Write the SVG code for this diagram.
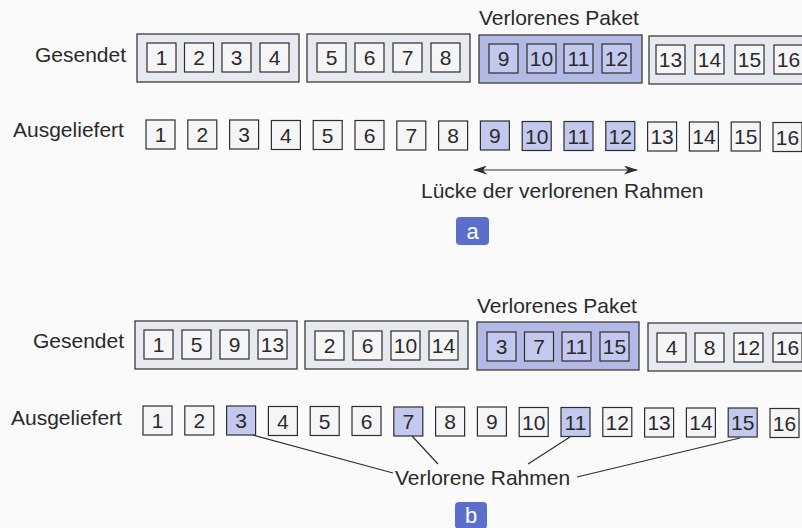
<svg xmlns="http://www.w3.org/2000/svg" width="802" height="528" viewBox="0 0 802 528">
  <defs>
    <style>
      text { font-family: "Liberation Sans", Arial, sans-serif; font-size: 21px; fill: #2a2a2a; }
      .num { text-anchor: middle; }
      .grp { fill: #e7e9f1; stroke: #3c3c3c; stroke-width: 1.3; }
      .grp.lost { fill: #b2b9e4; }
      .box { fill: #f5f5f8; stroke: #2e2e2e; stroke-width: 1.2; }
      .box.lost { fill: #c3c9ee; }
      .badge { fill: #5b6ecb; }
      .badge-t { fill: #ffffff; text-anchor: middle; font-size: 22px; }
      .lead { stroke: #2e2e2e; stroke-width: 1.2; fill: none; }
    </style>
    <marker id="head" viewBox="0 0 14 9" refX="13" refY="4.5" markerWidth="14" markerHeight="9" markerUnits="userSpaceOnUse" orient="auto-start-reverse">
      <path d="M0,0 L14,4.5 L0,9 L4,4.5 Z" fill="#2e2e2e"/>
    </marker>
  </defs>

  <rect x="0" y="0" width="802" height="528" fill="#fafafa"/>

  <!-- ===== Part a: packets carrying consecutive frames ===== -->
  <g id="a-sent-label"><text x="35" y="62">Gesendet</text></g>
  <g id="a-lost-caption"><text x="479" y="25">Verlorenes Paket</text></g>

  <g id="a-packet-1">
    <rect class="grp" x="137" y="34" width="162" height="48"/>
    <rect class="box" x="147" y="43" width="29" height="29"/><text class="num" x="161.5" y="65">1</text>
    <rect class="box" x="184.5" y="43" width="29" height="29"/><text class="num" x="199" y="65">2</text>
    <rect class="box" x="222" y="43" width="29" height="29"/><text class="num" x="236.5" y="65">3</text>
    <rect class="box" x="260" y="43" width="29" height="29"/><text class="num" x="274.5" y="65">4</text>
  </g>
  <g id="a-packet-2">
    <rect class="grp" x="307" y="34" width="163" height="48"/>
    <rect class="box" x="317" y="43" width="29" height="29"/><text class="num" x="331.5" y="65">5</text>
    <rect class="box" x="355" y="43" width="29" height="29"/><text class="num" x="369.5" y="65">6</text>
    <rect class="box" x="393" y="43" width="29" height="29"/><text class="num" x="407.5" y="65">7</text>
    <rect class="box" x="431" y="43" width="29" height="29"/><text class="num" x="445.5" y="65">8</text>
  </g>
  <g id="a-packet-3">
    <rect class="grp lost" x="479" y="35" width="163" height="48"/>
    <rect class="box lost" x="489" y="44" width="29" height="29"/><text class="num" x="503.5" y="66">9</text>
    <rect class="box lost" x="527" y="44" width="29" height="29"/><text class="num" x="541.5" y="66">10</text>
    <rect class="box lost" x="564" y="44" width="29" height="29"/><text class="num" x="578.5" y="66">11</text>
    <rect class="box lost" x="602" y="44" width="29" height="29"/><text class="num" x="616.5" y="66">12</text>
  </g>
  <g id="a-packet-4">
    <rect class="grp" x="649" y="36" width="165" height="48"/>
    <rect class="box" x="656" y="45" width="29" height="29"/><text class="num" x="670.5" y="67">13</text>
    <rect class="box" x="695" y="45" width="29" height="29"/><text class="num" x="709.5" y="67">14</text>
    <rect class="box" x="735" y="45" width="29" height="29"/><text class="num" x="749.5" y="67">15</text>
    <rect class="box" x="774" y="45" width="29" height="29"/><text class="num" x="788.5" y="67">16</text>
  </g>

  <g id="a-delivered-label"><text x="13" y="137">Ausgeliefert</text></g>
  <g id="a-delivered">
    <rect class="box" x="146" y="120" width="29" height="29"/><text class="num" x="160.5" y="142">1</text>
    <rect class="box" x="187.8" y="120" width="29" height="29"/><text class="num" x="202.3" y="142">2</text>
    <rect class="box" x="229.6" y="120" width="29" height="29"/><text class="num" x="244.1" y="142">3</text>
    <rect class="box" x="271.4" y="120.5" width="29" height="29"/><text class="num" x="285.9" y="142.5">4</text>
    <rect class="box" x="313.2" y="120.5" width="29" height="29"/><text class="num" x="327.7" y="142.5">5</text>
    <rect class="box" x="355" y="120.5" width="29" height="29"/><text class="num" x="369.5" y="142.5">6</text>
    <rect class="box" x="396.8" y="121" width="29" height="29"/><text class="num" x="411.3" y="143">7</text>
    <rect class="box" x="438.6" y="121" width="29" height="29"/><text class="num" x="453.1" y="143">8</text>
    <rect class="box lost" x="480.4" y="121" width="29" height="29"/><text class="num" x="494.9" y="143">9</text>
    <rect class="box lost" x="522.2" y="121.5" width="29" height="29"/><text class="num" x="536.7" y="143.5">10</text>
    <rect class="box lost" x="564" y="121.5" width="29" height="29"/><text class="num" x="578.5" y="143.5">11</text>
    <rect class="box lost" x="605.8" y="121.5" width="29" height="29"/><text class="num" x="620.3" y="143.5">12</text>
    <rect class="box" x="647.6" y="122" width="29" height="29"/><text class="num" x="662.1" y="144">13</text>
    <rect class="box" x="689.4" y="122" width="29" height="29"/><text class="num" x="703.9" y="144">14</text>
    <rect class="box" x="731.2" y="122" width="29" height="29"/><text class="num" x="745.7" y="144">15</text>
    <rect class="box" x="773" y="122.5" width="29" height="29"/><text class="num" x="787.5" y="144.5">16</text>
  </g>

  <g id="a-connectors">
    <line class="lead" x1="474" y1="170" x2="637" y2="170" marker-start="url(#head)" marker-end="url(#head)"/>
  </g>
  <g id="a-gap-label"><text x="421" y="198">Lücke der verlorenen Rahmen</text></g>
  <g id="a-badge">
    <rect class="badge" x="456" y="217" width="33" height="28" rx="4"/>
    <text class="badge-t" x="472.5" y="239">a</text>
  </g>

  <!-- ===== Part b: interleaved frames across packets ===== -->
  <g id="b-sent-label"><text x="33" y="348">Gesendet</text></g>
  <g id="b-lost-caption"><text x="477" y="313">Verlorenes Paket</text></g>

  <g id="b-packet-1">
    <rect class="grp" x="135" y="321" width="162" height="48"/>
    <rect class="box" x="144" y="330" width="29" height="29"/><text class="num" x="158.5" y="352">1</text>
    <rect class="box" x="182" y="330" width="29" height="29"/><text class="num" x="196.5" y="352">5</text>
    <rect class="box" x="220" y="330" width="29" height="29"/><text class="num" x="234.5" y="352">9</text>
    <rect class="box" x="258" y="330" width="29" height="29"/><text class="num" x="272.5" y="352">13</text>
  </g>
  <g id="b-packet-2">
    <rect class="grp" x="305" y="321" width="163" height="48"/>
    <rect class="box" x="315" y="331" width="29" height="29"/><text class="num" x="329.5" y="353">2</text>
    <rect class="box" x="353" y="331" width="29" height="29"/><text class="num" x="367.5" y="353">6</text>
    <rect class="box" x="391" y="331" width="29" height="29"/><text class="num" x="405.5" y="353">10</text>
    <rect class="box" x="429" y="331" width="29" height="29"/><text class="num" x="443.5" y="353">14</text>
  </g>
  <g id="b-packet-3">
    <rect class="grp lost" x="477" y="322" width="162" height="48"/>
    <rect class="box lost" x="487" y="332" width="29" height="29"/><text class="num" x="501.5" y="354">3</text>
    <rect class="box lost" x="524.5" y="332" width="29" height="29"/><text class="num" x="539" y="354">7</text>
    <rect class="box lost" x="562" y="332" width="29" height="29"/><text class="num" x="576.5" y="354">11</text>
    <rect class="box lost" x="600" y="332" width="29" height="29"/><text class="num" x="614.5" y="354">15</text>
  </g>
  <g id="b-packet-4">
    <rect class="grp" x="648" y="323" width="165" height="48"/>
    <rect class="box" x="657" y="333" width="29" height="29"/><text class="num" x="671.5" y="355">4</text>
    <rect class="box" x="695" y="333" width="29" height="29"/><text class="num" x="709.5" y="355">8</text>
    <rect class="box" x="734" y="333" width="29" height="29"/><text class="num" x="748.5" y="355">12</text>
    <rect class="box" x="773" y="333" width="29" height="29"/><text class="num" x="787.5" y="355">16</text>
  </g>

  <g id="b-delivered-label"><text x="11" y="425">Ausgeliefert</text></g>
  <g id="b-delivered">
    <rect class="box" x="143" y="406" width="29" height="29"/><text class="num" x="157.5" y="428">1</text>
    <rect class="box" x="184.8" y="406" width="29" height="29"/><text class="num" x="199.3" y="428">2</text>
    <rect class="box lost" x="226.6" y="406" width="29" height="29"/><text class="num" x="241.1" y="428">3</text>
    <rect class="box" x="268.4" y="406.5" width="29" height="29"/><text class="num" x="282.9" y="428.5">4</text>
    <rect class="box" x="310.2" y="406.5" width="29" height="29"/><text class="num" x="324.7" y="428.5">5</text>
    <rect class="box" x="352" y="406.5" width="29" height="29"/><text class="num" x="366.5" y="428.5">6</text>
    <rect class="box lost" x="393.8" y="407" width="29" height="29"/><text class="num" x="408.3" y="429">7</text>
    <rect class="box" x="435.6" y="407" width="29" height="29"/><text class="num" x="450.1" y="429">8</text>
    <rect class="box" x="477.4" y="407" width="29" height="29"/><text class="num" x="491.9" y="429">9</text>
    <rect class="box" x="519.2" y="407.5" width="29" height="29"/><text class="num" x="533.7" y="429.5">10</text>
    <rect class="box lost" x="561" y="407.5" width="29" height="29"/><text class="num" x="575.5" y="429.5">11</text>
    <rect class="box" x="602.8" y="407.5" width="29" height="29"/><text class="num" x="617.3" y="429.5">12</text>
    <rect class="box" x="644.6" y="408" width="29" height="29"/><text class="num" x="659.1" y="430">13</text>
    <rect class="box" x="686.4" y="408" width="29" height="29"/><text class="num" x="700.9" y="430">14</text>
    <rect class="box lost" x="728.2" y="408" width="29" height="29"/><text class="num" x="742.7" y="430">15</text>
    <rect class="box" x="770" y="408.5" width="29" height="29"/><text class="num" x="784.5" y="430.5">16</text>
  </g>

  <g id="b-connectors">
    <line class="lead" x1="253" y1="435" x2="393" y2="473"/>
    <line class="lead" x1="412" y1="436" x2="438" y2="464"/>
    <line class="lead" x1="570" y1="437" x2="528" y2="464"/>
    <line class="lead" x1="740" y1="438" x2="577" y2="477"/>
  </g>
  <g id="b-lost-label"><text x="395" y="485">Verlorene Rahmen</text></g>
  <g id="b-badge">
    <rect class="badge" x="455" y="502" width="32" height="27" rx="4"/>
    <text class="badge-t" x="471" y="523">b</text>
  </g>
</svg>
